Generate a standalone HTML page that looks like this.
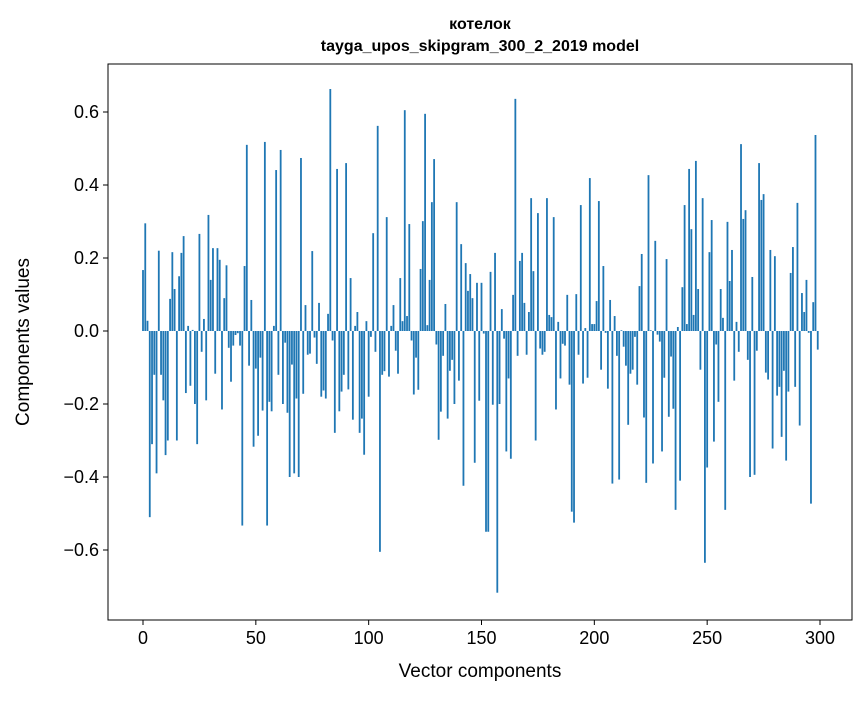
<!DOCTYPE html>
<html><head><meta charset="utf-8"><style>
body{margin:0;background:#fff;font-family:"Liberation Sans","DejaVu Sans",sans-serif}
svg text{font-family:"Liberation Sans","DejaVu Sans",sans-serif}
</style></head><body>
<svg id="chart" width="867" height="696" xmlns="http://www.w3.org/2000/svg">
<rect width="867" height="696" fill="#fff"/>
<text x="480" y="29" text-anchor="middle" font-size="16" font-weight="bold">котелок</text>
<text x="480" y="51" text-anchor="middle" font-size="16" font-weight="bold">tayga_upos_skipgram_300_2_2019 model</text>
<g id="bars"></g>
<g id="axes"></g>
<text x="480" y="677" text-anchor="middle" font-size="19">Vector components</text>
<text transform="translate(29,342) rotate(-90)" text-anchor="middle" font-size="19">Components values</text>
</svg>
<script>
const values=[0.167,0.295,0.028,-0.51,-0.31,-0.12,-0.39,0.22,-0.12,-0.19,
-0.34,-0.30,0.088,0.216,0.115,-0.30,0.15,0.214,0.26,-0.17,
0.014,-0.15,0.003,-0.20,-0.31,0.266,-0.057,0.033,-0.19,0.318,
0.14,0.227,-0.117,0.227,0.195,-0.215,0.09,0.18,-0.046,-0.139,
-0.04,-0.011,-0.006,-0.04,-0.533,0.178,0.51,-0.095,0.085,-0.317,
-0.103,-0.287,-0.073,-0.218,0.518,-0.533,-0.194,-0.22,0.014,0.441,
-0.12,0.496,-0.2,-0.032,-0.224,-0.40,-0.092,-0.39,-0.185,-0.40,
0.474,-0.172,0.071,-0.065,-0.062,0.219,-0.018,-0.09,0.077,-0.18,
-0.163,-0.185,0.047,0.663,-0.026,-0.279,0.444,-0.22,-0.166,-0.12,
0.46,-0.16,0.145,-0.243,0.014,0.052,-0.279,-0.24,-0.339,0.027,
-0.18,-0.016,0.268,-0.057,0.562,-0.605,-0.12,-0.11,0.312,-0.125,
0.014,0.071,-0.054,-0.117,0.145,0.027,0.605,0.041,0.293,-0.026,
-0.174,-0.073,-0.161,0.17,0.301,0.595,0.016,0.14,0.353,0.471,
-0.037,-0.298,-0.221,-0.068,0.074,-0.24,-0.109,-0.079,-0.2,0.353,
-0.136,0.238,-0.424,0.186,0.11,0.156,0.09,-0.361,0.132,-0.191,
0.132,-0.007,-0.55,-0.55,0.162,-0.202,0.214,-0.717,-0.2,0.06,
-0.021,-0.33,-0.13,-0.35,0.099,0.636,-0.068,0.192,0.214,0.077,
-0.065,0.052,0.364,0.164,-0.30,0.323,-0.048,-0.065,-0.057,0.364,
0.044,0.038,0.312,-0.215,0.025,-0.13,-0.035,-0.04,0.099,-0.147,
-0.495,-0.525,0.101,-0.065,0.345,-0.144,0.008,-0.128,0.419,0.019,
0.019,0.082,0.356,-0.106,0.178,-0.005,-0.158,0.085,-0.418,0.041,
-0.068,-0.407,0.002,-0.043,-0.095,-0.257,-0.117,-0.106,-0.016,-0.147,
0.123,0.211,-0.237,-0.416,0.427,0.002,-0.363,0.247,-0.01,-0.029,
-0.33,-0.128,0.197,-0.235,-0.07,-0.213,-0.49,0.011,-0.41,0.12,
0.345,0.019,0.444,0.279,0.044,0.466,0.115,-0.106,0.364,-0.635,
-0.374,0.216,0.304,-0.303,-0.037,-0.194,0.115,0.036,-0.49,0.299,
0.137,0.222,-0.136,0.025,-0.057,0.512,0.307,0.331,-0.079,-0.40,
0.148,-0.394,-0.054,0.46,0.359,0.375,-0.114,-0.133,0.222,-0.322,
0.205,-0.177,-0.153,-0.29,-0.109,-0.355,-0.166,0.159,0.23,-0.153,
0.351,-0.259,0.104,0.052,0.14,-0.005,-0.473,0.079,0.537,-0.051];
const xTicks=[0,50,100,150,200,250,300];
const yTicks=[-0.6,-0.4,-0.2,0.0,0.2,0.4,0.6];
const yTickLabels=["\u22120.6","\u22120.4","\u22120.2","0.0","0.2","0.4","0.6"];
const NS="http://www.w3.org/2000/svg";
const PL=108,PR=852,PT=64,PB=620;
function xs(v){return 143+v*(677/300);}
function ys(v){return 331-v*365;}
const bars=document.getElementById('bars');
const bw=0.8*(677/300);
values.forEach((v,i)=>{
  const r=document.createElementNS(NS,'rect');
  
  
  const y0=ys(0),y1=ys(v);
  r.setAttribute('x',xs(i)-bw/2);
  r.setAttribute('y',Math.min(y0,y1));
  r.setAttribute('width',bw);
  r.setAttribute('height',Math.max(Math.abs(y1-y0),0.3));
  r.setAttribute('fill','#1f77b4');
  bars.appendChild(r);
});
const ax=document.getElementById('axes');
const frame=document.createElementNS(NS,'rect');


frame.setAttribute('x',PL);frame.setAttribute('y',PT);
frame.setAttribute('width',PR-PL);frame.setAttribute('height',PB-PT);
frame.setAttribute('fill','none');frame.setAttribute('stroke','#000');frame.setAttribute('stroke-width','1');
ax.appendChild(frame);
xTicks.forEach(t=>{
  const l=document.createElementNS(NS,'line');
  
  
  l.setAttribute('x1',xs(t));l.setAttribute('x2',xs(t));l.setAttribute('y1',PB);l.setAttribute('y2',PB+5);
  l.setAttribute('stroke','#000');
  ax.appendChild(l);
  const tx=document.createElementNS(NS,'text');
  
  
  tx.setAttribute('x',xs(t));tx.setAttribute('y',PB+24);
  tx.setAttribute('text-anchor','middle');tx.setAttribute('font-size','18');
  tx.textContent=t;
  ax.appendChild(tx);
});
yTicks.forEach((t,i)=>{
  const l=document.createElementNS(NS,'line');
  
  
  l.setAttribute('x1',PL-5);l.setAttribute('x2',PL);l.setAttribute('y1',ys(t));l.setAttribute('y2',ys(t));
  l.setAttribute('stroke','#000');
  ax.appendChild(l);
  const tx=document.createElementNS(NS,'text');
  
  
  tx.setAttribute('x',PL-9);tx.setAttribute('y',ys(t)+6);
  tx.setAttribute('text-anchor','end');tx.setAttribute('font-size','18');
  tx.textContent=yTickLabels[i];
  ax.appendChild(tx);
});
</script>
</body></html>
